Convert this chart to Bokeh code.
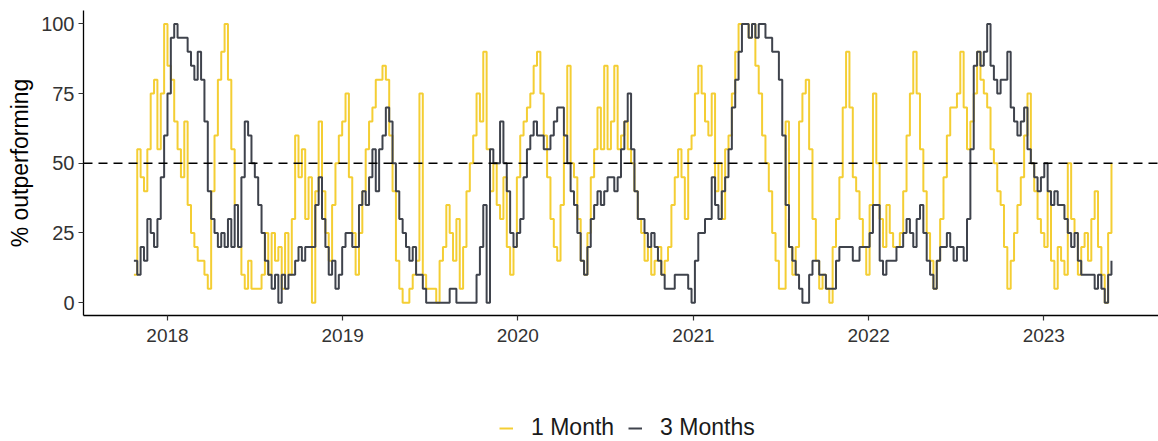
import pandas as pd
from bokeh.plotting import figure
from bokeh.layouts import column
from bokeh.models import Span, Legend, LegendItem, FixedTicker, DatetimeTickFormatter, Range1d
from bokeh.embed import file_html
from bokeh.resources import INLINE

# ---- data (weekly readings, % of stocks outperforming) ----
start_date = "2017-10-23"

one_month = [
    10, 55, 45, 40, 55, 75, 80, 55, 75, 100,
    85, 80, 65, 55, 45, 65, 35, 25, 20, 15,
    15, 10, 5, 40, 60, 80, 90, 100, 80, 55,
    35, 20, 10, 5, 15, 5, 5, 5, 10, 25,
    10, 25, 15, 20, 5, 25, 10, 30, 60, 45,
    55, 30, 45, 0, 40, 65, 40, 25, 15, 35,
    50, 60, 65, 75, 45, 25, 10, 25, 40, 55,
    65, 70, 80, 80, 85, 80, 60, 40, 15, 5,
    0, 0, 5, 10, 15, 75, 10, 5, 5, 5,
    0, 15, 20, 35, 25, 15, 30, 5, 20, 40,
    50, 60, 75, 65, 90, 55, 40, 50, 35, 30,
    45, 20, 10, 20, 45, 60, 65, 70, 75, 85,
    90, 75, 60, 45, 30, 20, 15, 35, 60, 85,
    50, 45, 30, 15, 10, 25, 45, 55, 70, 55,
    85, 55, 65, 85, 55, 60, 65, 55, 50, 40,
    30, 25, 15, 20, 10, 15, 20, 10, 15, 20,
    35, 45, 55, 45, 30, 55, 60, 75, 85, 75,
    65, 60, 75, 40, 50, 30, 55, 60, 75, 90,
    100, 100, 100, 95, 100, 85, 75, 60, 50, 40,
    25, 15, 5, 5, 65, 20, 10, 20, 65, 75,
    80, 55, 30, 15, 5, 10, 5, 0, 20, 30,
    45, 70, 90, 70, 45, 40, 30, 20, 10, 35,
    75, 50, 30, 20, 35, 25, 20, 20, 25, 40,
    60, 75, 90, 75, 55, 40, 25, 15, 5, 15,
    30, 45, 60, 70, 70, 75, 90, 70, 55, 65,
    75, 90, 80, 75, 70, 55, 50, 40, 35, 20,
    5, 15, 25, 35, 45, 60, 75, 50, 40, 30,
    25, 20, 40, 15, 5, 20, 15, 10, 50, 30,
    25, 10, 20, 25, 15, 30, 40, 20, 10, 0,
    25, 50,
]

three_months = [
    15, 10, 20, 15, 30, 25, 20, 30, 45, 60,
    75, 95, 100, 95, 95, 95, 90, 85, 80, 90,
    80, 65, 40, 30, 25, 20, 25, 20, 30, 20,
    35, 20, 45, 65, 60, 50, 45, 35, 25, 15,
    10, 5, 10, 0, 10, 5, 10, 10, 15, 20,
    15, 20, 20, 20, 35, 45, 30, 20, 10, 15,
    5, 10, 20, 25, 25, 20, 20, 35, 40, 35,
    45, 55, 40, 55, 60, 70, 65, 50, 40, 30,
    25, 20, 15, 20, 10, 10, 5, 0, 0, 0,
    0, 0, 0, 0, 5, 5, 0, 0, 0, 0,
    0, 0, 10, 20, 35, 0, 55, 50, 50, 65,
    50, 40, 25, 20, 25, 30, 45, 55, 60, 65,
    60, 60, 55, 55, 60, 65, 70, 70, 60, 50,
    40, 35, 25, 15, 10, 20, 30, 35, 40, 35,
    40, 45, 45, 40, 45, 55, 65, 75, 55, 40,
    30, 30, 25, 20, 25, 20, 15, 10, 5, 5,
    5, 10, 10, 10, 10, 5, 0, 15, 25, 25,
    30, 30, 45, 35, 30, 40, 45, 55, 70, 80,
    90, 100, 100, 95, 100, 95, 100, 100, 95, 95,
    90, 90, 80, 60, 35, 20, 15, 10, 5, 0,
    0, 10, 15, 15, 10, 10, 5, 5, 5, 15,
    20, 20, 20, 20, 15, 15, 20, 20, 20, 25,
    35, 35, 15, 10, 15, 15, 15, 20, 20, 25,
    30, 25, 20, 30, 35, 25, 15, 10, 5, 15,
    20, 20, 25, 20, 15, 20, 20, 15, 30, 55,
    85, 90, 85, 90, 100, 85, 80, 75, 80, 80,
    90, 70, 65, 60, 65, 70, 55, 50, 45, 40,
    45, 50, 40, 35, 40, 35, 35, 30, 25, 20,
    25, 15, 10, 10, 10, 10, 5, 10, 5, 0,
    10, 15,
]

tick_years = [2018, 2019, 2020, 2021, 2022, 2023]
y_ticks = [0, 25, 50, 75, 100]
series_labels = ["1 Month", "3 Months"]

YELLOW = "#F4CE34"
GRAY = "#3F434C"
FONT = "Liberation Sans"

dates = pd.date_range(start_date, periods=len(one_month), freq="7D")
year_tick_ms = [pd.Timestamp(f"{y}-01-01").value // 10**6 for y in tick_years]

W = 1158
H_MAIN = 360
H_LEG = 81

p = figure(
    width=W, height=H_MAIN,
    x_axis_type="datetime",
    x_range=Range1d(pd.Timestamp("2017-07-10").to_pydatetime(), pd.Timestamp("2023-08-28").to_pydatetime()),
    y_range=Range1d(-4.6, 104.8),
    output_backend="svg", toolbar_location=None,
    min_border_left=83, min_border_top=10, min_border_right=0, min_border_bottom=45,
)
p.outline_line_color = None
p.xgrid.visible = False
p.ygrid.visible = False
p.background_fill_color = "white"
p.border_fill_color = "white"

r1 = p.step(dates, one_month, mode="after", line_color=YELLOW, line_width=2)
r2 = p.step(dates, three_months, mode="after", line_color=GRAY, line_width=2)

p.add_layout(Span(location=50, dimension="width", line_color="black",
                  line_dash="9 6", line_width=1.6))

# axes
for ax in (p.xaxis[0], p.yaxis[0]):
    ax.axis_line_color = "black"
    ax.axis_line_width = 1.3
    ax.major_tick_line_color = "#333333"
    ax.major_tick_line_width = 1.2
    ax.major_tick_out = 5
    ax.major_tick_in = 0
    ax.minor_tick_line_color = None
    ax.major_label_text_font = FONT
    ax.major_label_text_color = "#333333"

p.xaxis.major_label_text_font_size = "19px"
p.yaxis.major_label_text_font_size = "20px"

p.xaxis.ticker = FixedTicker(ticks=year_tick_ms)
p.xaxis.formatter = DatetimeTickFormatter(years="%Y", months="%Y", days="%Y", hours="%Y")
p.xaxis.major_label_standoff = 8

p.yaxis.ticker = FixedTicker(ticks=y_ticks)
p.yaxis.major_label_standoff = 4
p.yaxis.axis_label = "% outperforming"
p.yaxis.axis_label_text_font = FONT
p.yaxis.axis_label_text_font_size = "23px"
p.yaxis.axis_label_text_font_style = "normal"
p.yaxis.axis_label_text_color = "black"
p.yaxis.axis_label_standoff = 5

# legend strip below the chart
pl = figure(width=W, height=H_LEG, x_range=(0, 1), y_range=(0, 1),
            output_backend="svg", toolbar_location=None, min_border=0)
pl.xaxis.visible = False
pl.yaxis.visible = False
pl.xgrid.visible = False
pl.ygrid.visible = False
pl.outline_line_color = None
proxy1 = pl.line([2, 3], [2, 3], line_color=YELLOW, line_width=2)
proxy2 = pl.line([2, 3], [2, 3], line_color=GRAY, line_width=2)

legend = Legend(
    items=[LegendItem(label=series_labels[0], renderers=[proxy1]),
           LegendItem(label=series_labels[1], renderers=[proxy2])],
    orientation="horizontal", location=(416, 0),
    label_text_font=FONT, label_text_font_size="23px", label_text_color="#1a1a1a",
    glyph_width=14, glyph_height=24, label_height=24, label_standoff=18, spacing=14,
    border_line_color=None, background_fill_alpha=0,
    margin=0, padding=0,
)
pl.add_layout(legend)

layout = column(p, pl, spacing=0)
open("out.html", "w").write(file_html(layout, INLINE))
